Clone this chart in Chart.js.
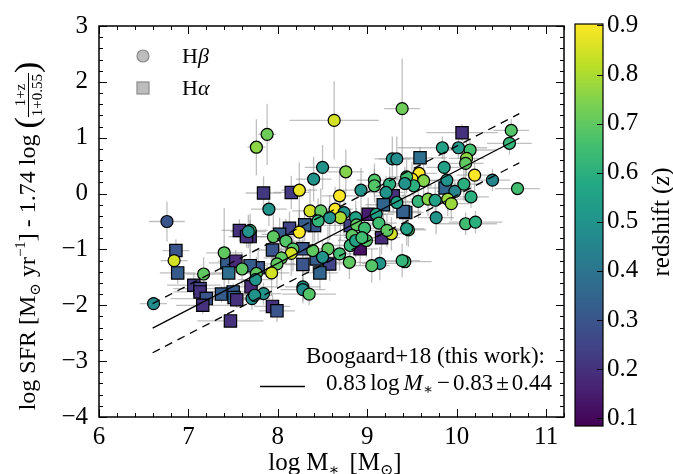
<!DOCTYPE html>
<html>
<head>
<meta charset="utf-8">
<script src="https://cdn.jsdelivr.net/npm/chart.js@4.4.1/dist/chart.umd.min.js"></script>
<style>
  html, body { margin: 0; padding: 0; background: #fff; }
  #wrap { width: 673px; height: 474px; }
</style>
</head>
<body>
<div id="wrap"><canvas id="c" width="673" height="474"></canvas></div>
<script>
// H-beta galaxies: stellar mass, SFR (normalised), redshift, x error, y error
const hbMass = [7.76, 7.88, 8.63, 9.39, 9.84, 10.02, 10.15, 10.11, 10.61, 10.59, 9.86, 9.58, 9.50, 9.63, 9.52, 9.89, 9.98, 10.08, 10.20, 10.10,
  10.40, 10.68, 10.16, 9.57, 9.68, 9.76, 9.90, 9.94, 9.77, 10.10, 10.21, 9.46, 9.42, 8.50, 8.76, 8.40, 8.24, 7.90, 8.69, 8.93,
  9.08, 9.08, 9.25, 9.21, 9.44, 9.42, 9.33, 9.28, 9.33, 8.36, 8.48, 8.64, 8.74, 8.70, 8.58, 8.45, 8.87, 8.88, 9.10, 9.13,
  8.97, 9.27, 9.22, 9.44, 8.99, 8.83, 8.81, 8.87, 8.94, 8.24, 7.95, 8.09, 8.17, 8.39, 8.56, 8.50, 8.69, 8.80, 9.14, 9.05,
  9.39, 8.15, 8.04, 7.99, 7.93, 8.28, 7.69, 7.76, 6.76, 6.84, 7.17, 7.40, 7.60, 7.67, 7.75, 6.61, 7.71, 8.28, 8.35, 7.84, 7.74];
const hbSfr = [0.83, 1.06, 1.31, 1.52, 0.82, 0.82, 0.78, 0.63, 1.13, 0.90, 0.47, 0.36, 0.26, 0.23, 0.14, 0.24, 0.04, 0.17, 0.33, 0.54,
  0.24, 0.09, -0.06, -0.14, -0.10, -0.12, -0.10, -0.18, -0.43, -0.54, -0.51, -0.65, -1.22, 0.47, 0.39, 0.26, 0.06, -0.28, -0.04, 0.06,
  0.24, 0.14, 0.17, 0.02, 0.30, 0.18, -0.16, 0.62, 0.62, -0.31, -0.31, -0.28, -0.34, -0.43, -0.43, -0.49, -0.43, -0.56, -0.37, -0.53,
  -0.62, -0.72, -0.66, -0.63, -0.84, -0.75, -0.93, -0.84, -0.79, -0.69, -0.77, -0.85, -0.99, -1.02, -0.99, -1.14, -1.08, -1.23, -1.25, -1.29,
  -1.20, -1.07, -1.15, -1.26, -1.42, -1.67, -0.66, -1.43, -0.50, -1.20, -1.44, -1.06, -1.35, -0.68, -1.54, -1.97, -1.88, -1.72, -1.80, -1.79, -1.82];
const hbZ = [0.76, 0.72, 0.85, 0.72, 0.55, 0.52, 0.66, 0.76, 0.68, 0.62, 0.55, 0.90, 0.90, 0.75, 0.60, 0.50, 0.45, 0.60, 0.90, 0.70,
  0.45, 0.65, 0.60, 0.62, 0.75, 0.55, 0.78, 0.78, 0.50, 0.65, 0.60, 0.65, 0.65, 0.50, 0.75, 0.50, 0.88, 0.50, 0.90, 0.50,
  0.68, 0.68, 0.60, 0.50, 0.65, 0.50, 0.55, 0.50, 0.48, 0.85, 0.70, 0.90, 0.50, 0.80, 0.50, 0.62, 0.55, 0.70, 0.55, 0.65,
  0.65, 0.85, 0.70, 0.55, 0.68, 0.70, 0.62, 0.55, 0.65, 0.90, 0.70, 0.68, 0.68, 0.70, 0.70, 0.50, 0.65, 0.70, 0.50, 0.68,
  0.62, 0.85, 0.70, 0.70, 0.85, 0.50, 0.65, 0.70, 0.30, 0.85, 0.70, 0.70, 0.70, 0.50, 0.50, 0.48, 0.48, 0.48, 0.68, 0.50, 0.50];
const hbXerr = [0.10, 0.10, 0.50, 0.20, 0.50, 0.20, 0.30, 0.20, 0.20, 0.25, 0.20, 0.20, 0.20, 0.20, 0.20, 0.20, 0.20, 0.20, 0.20, 0.20,
  0.20, 0.25, 0.20, 0.20, 0.20, 0.20, 0.20, 0.20, 0.20, 0.35, 0.30, 0.20, 0.30, 0.20, 0.20, 0.20, 0.20, 0.20, 0.20, 0.20,
  0.20, 0.20, 0.20, 0.20, 0.20, 0.20, 0.20, 0.20, 0.20, 0.20, 0.20, 0.20, 0.20, 0.20, 0.20, 0.20, 0.20, 0.20, 0.20, 0.20,
  0.20, 0.20, 0.20, 0.20, 0.20, 0.20, 0.20, 0.20, 0.20, 0.20, 0.20, 0.20, 0.20, 0.20, 0.20, 0.20, 0.20, 0.20, 0.20, 0.20,
  0.20, 0.20, 0.20, 0.20, 0.20, 0.20, 0.20, 0.20, 0.20, 0.15, 0.20, 0.20, 0.20, 0.20, 0.20, 0.15, 0.20, 0.25, 0.30, 0.20, 0.20];
const hbYerr = [0.50, 0.55, 0.70, 0.90, 0.20, 0.20, 0.20, 0.30, 0.20, 0.20, 0.30, 0.30, 0.30, 0.30, 0.30, 0.30, 0.20, 0.30, 0.30, 0.30,
  0.20, 0.10, 0.20, 0.30, 0.30, 0.30, 0.30, 0.30, 0.30, 0.20, 0.20, 0.30, 0.10, 0.40, 0.40, 0.40, 0.50, 0.30, 0.50, 0.40,
  0.30, 0.30, 0.30, 0.30, 0.30, 0.30, 0.30, 0.40, 0.40, 0.40, 0.40, 0.40, 0.40, 0.40, 0.40, 0.40, 0.30, 0.30, 0.30, 0.30,
  0.30, 0.30, 0.30, 0.30, 0.30, 0.30, 0.30, 0.30, 0.30, 0.40, 0.40, 0.40, 0.40, 0.40, 0.40, 0.30, 0.30, 0.30, 0.30, 0.30,
  0.30, 0.40, 0.40, 0.40, 0.40, 0.30, 0.30, 0.30, 0.36, 0.20, 0.30, 0.80, 0.30, 0.30, 0.30, 0.10, 0.20, 0.20, 0.20, 0.20, 0.20];

// H-alpha galaxies
const haMass = [10.06, 9.59, 9.87, 9.43, 7.84, 8.15, 9.29, 9.18, 9.40, 8.41, 9.01, 8.81, 9.16, 8.92, 8.30, 8.13, 8.02, 7.94, 8.28, 8.43,
  8.28, 8.58, 8.47, 7.78, 7.69, 7.69, 6.86, 6.88, 7.06, 7.13, 7.43, 7.53, 7.45, 7.57, 7.65, 7.70, 7.13, 7.20, 7.16, 7.37,
  7.50, 7.51, 7.54, 7.47, 7.94, 7.99];
const haSfr = [1.09, 0.64, 0.10, -0.34, 0.01, 0.02, -0.04, -0.20, -0.32, -0.57, -0.37, -0.57, -0.79, -0.99, -0.56, -0.62, -0.73, -1.01, -0.99, -1.17,
  -1.27, -1.26, -1.42, -1.33, -1.29, -0.77, -1.02, -1.42, -1.64, -1.70, -1.24, -1.21, -1.42, -0.66, -0.77, -1.67, -1.76, -1.88, -2.00, -1.80,
  -1.76, -1.86, -1.90, -2.28, -2.02, -2.10];
const haZ = [0.20, 0.38, 0.35, 0.35, 0.22, 0.22, 0.20, 0.35, 0.33, 0.30, 0.15, 0.25, 0.18, 0.12, 0.32, 0.25, 0.32, 0.30, 0.30, 0.32,
  0.30, 0.25, 0.35, 0.30, 0.32, 0.20, 0.30, 0.32, 0.22, 0.25, 0.32, 0.18, 0.38, 0.20, 0.20, 0.18, 0.20, 0.30, 0.20, 0.32,
  0.32, 0.35, 0.20, 0.20, 0.20, 0.30];
const haXerr = [0.40, 0.30, 0.20, 0.20, 0.20, 0.20, 0.20, 0.20, 0.20, 0.20, 0.20, 0.20, 0.20, 0.20, 0.20, 0.20, 0.20, 0.20, 0.20, 0.20,
  0.20, 0.20, 0.20, 0.20, 0.20, 0.20, 0.15, 0.20, 0.30, 0.30, 0.20, 0.20, 0.20, 0.20, 0.20, 0.30, 0.30, 0.40, 0.30, 0.30,
  0.30, 0.30, 0.30, 0.37, 0.20, 0.20];
const haYerr = [0.15, 0.20, 0.30, 0.30, 0.30, 0.30, 0.30, 0.30, 0.30, 0.30, 0.30, 0.30, 0.30, 0.30, 0.30, 0.30, 0.30, 0.30, 0.30, 0.30,
  0.30, 0.30, 0.30, 0.30, 0.30, 0.30, 0.20, 0.20, 0.20, 0.20, 0.20, 0.20, 0.20, 0.20, 0.20, 0.20, 0.20, 0.15, 0.15, 0.15,
  0.15, 0.15, 0.15, 0.10, 0.20, 0.20];

// best fit 0.83 log M - 0.83 +- 0.44, end points
const fitMass = [6.6, 10.7];
const fitSfr = [-2.41, 0.99];
const fitUpper = [-1.97, 1.43];
const fitLower = [-2.85, 0.55];

const xTicks = [6, 7, 8, 9, 10, 11];
const yTicks = [-4, -3, -2, -1, 0, 1, 2, 3];
const cbTicks = [0.1, 0.2, 0.3, 0.4, 0.5, 0.6, 0.7, 0.8, 0.9];
const zMin = 0.084, zMax = 0.903;

const viridisStops = ['#440154','#482475','#414487','#355f8d','#2a788e','#21918c','#22a884','#44bf70','#7ad151','#bddf26','#fde725'];
function hexRgb(h){ return [parseInt(h.slice(1,3),16), parseInt(h.slice(3,5),16), parseInt(h.slice(5,7),16)]; }
function viridis(t){
  t = Math.max(0, Math.min(1, t));
  const f = t*(viridisStops.length-1), i = Math.min(Math.floor(f), viridisStops.length-2), u = f-i;
  const a = hexRgb(viridisStops[i]), b = hexRgb(viridisStops[i+1]);
  return 'rgb(' + a.map((v,k)=>Math.round(v+(b[k]-v)*u)).join(',') + ')';
}
const zColor = z => viridis((z-zMin)/(zMax-zMin));

const serif = '"Liberation Serif", "DejaVu Serif", serif';
const minus = v => v < 0 ? '\u2212' + Math.abs(v) : String(v);

function pts(m, s){ return m.map((x,i)=>({x:x, y:s[i]})); }

// draws a row of text pieces, starting at x, baseline y
function drawPieces(ctx, pieces, x, y){
  let cx = x;
  pieces.forEach(p=>{
    if (p.gap){ cx += p.gap; return; }
    if (p.frac){
      ctx.font = p.font;
      const w1 = ctx.measureText(p.num).width, w2 = ctx.measureText(p.den).width, w = Math.max(w1,w2)+2;
      ctx.fillText(p.num, cx + (w-w1)/2, y - 10);
      ctx.fillText(p.den, cx + (w-w2)/2, y + 7);
      ctx.fillRect(cx, y - 7, w, 1);
      cx += w;
      return;
    }
    ctx.font = p.font;
    ctx.fillText(p.t, cx, y + (p.dy||0));
    cx += ctx.measureText(p.t).width;
  });
  return cx - x;
}
function piecesWidth(ctx, pieces){
  let w = 0;
  pieces.forEach(p=>{
    if (p.gap){ w += p.gap; return; }
    ctx.font = p.font;
    if (p.frac) w += Math.max(ctx.measureText(p.num).width, ctx.measureText(p.den).width)+2;
    else w += ctx.measureText(p.t).width;
  });
  return w;
}

const decor = {
  id: 'decor',
  beforeDatasetsDraw(chart){
    const ctx = chart.ctx, xs = chart.scales.x, ys = chart.scales.y;
    ctx.save();
    ctx.strokeStyle = 'rgba(150,150,150,0.6)';
    ctx.lineWidth = 1.3;
    const bars = (m, s, ex, ey) => m.forEach((x,i)=>{
      const px = xs.getPixelForValue(x), py = ys.getPixelForValue(s[i]);
      ctx.beginPath();
      ctx.moveTo(xs.getPixelForValue(x-ex[i]), py); ctx.lineTo(xs.getPixelForValue(x+ex[i]), py);
      ctx.moveTo(px, ys.getPixelForValue(s[i]-ey[i])); ctx.lineTo(px, ys.getPixelForValue(s[i]+ey[i]));
      ctx.stroke();
    });
    bars(hbMass, hbSfr, hbXerr, hbYerr);
    bars(haMass, haSfr, haXerr, haYerr);
    ctx.restore();
  },
  afterDraw(chart){
    const ctx = chart.ctx, xs = chart.scales.x, ys = chart.scales.y;
    const {left, right, top, bottom} = chart.chartArea;
    ctx.save();
    // inward ticks on all four sides
    ctx.strokeStyle = '#000'; ctx.lineWidth = 1;
    ctx.beginPath();
    for (let k = 0; k <= 26; k++){
      const v = 6 + k*0.2, px = Math.round(xs.getPixelForValue(v)) + 0.5, L = (k % 5 === 0) ? 8 : 4;
      ctx.moveTo(px, bottom); ctx.lineTo(px, bottom - L);
      ctx.moveTo(px, top); ctx.lineTo(px, top + L);
    }
    for (let k = 0; k <= 35; k++){
      const v = -4 + k*0.2, py = Math.round(ys.getPixelForValue(v)) + 0.5, L = (k % 5 === 0) ? 8 : 4;
      ctx.moveTo(left, py); ctx.lineTo(left + L, py);
      ctx.moveTo(right, py); ctx.lineTo(right - L, py);
    }
    ctx.stroke();
    ctx.lineWidth = 1.5;
    ctx.strokeRect(left, top, right-left, bottom-top);

    // legend
    ctx.fillStyle = '#bdbdbd'; ctx.strokeStyle = '#8a8a8a'; ctx.lineWidth = 1.2;
    ctx.beginPath(); ctx.arc(143, 56, 6, 0, Math.PI*2); ctx.fill(); ctx.stroke();
    ctx.fillRect(137, 82, 12, 12); ctx.strokeRect(137, 82, 12, 12);
    ctx.fillStyle = '#000';
    ctx.textBaseline = 'alphabetic'; ctx.textAlign = 'left';
    drawPieces(ctx, [{t:'H', font:'22px '+serif}, {t:'\u03b2', font:'italic 22px '+serif}], 182, 63);
    drawPieces(ctx, [{t:'H', font:'22px '+serif}, {t:'\u03b1', font:'italic 22px '+serif}], 182, 95);

    // fit annotation
    ctx.font = '23px ' + serif;
    ctx.textAlign = 'right';
    ctx.fillText('Boogaard+18 (this work):', 545, 363);
    ctx.textAlign = 'left';
    const eq = [
      {t:'0.83', font:'23px '+serif}, {gap:4},
      {t:'log', font:'23px '+serif}, {gap:4},
      {t:'M', font:'italic 23px '+serif},
      {t:'\u2217', font:'15px '+serif, dy:4}, {gap:4},
      {t:'\u2212', font:'23px '+serif}, {gap:3},
      {t:'0.83', font:'23px '+serif}, {gap:3},
      {t:'\u00b1', font:'23px '+serif}, {gap:3},
      {t:'0.44', font:'23px '+serif}
    ];
    const ew = piecesWidth(ctx, eq);
    drawPieces(ctx, eq, 552 - ew, 390);
    ctx.strokeStyle = '#000'; ctx.lineWidth = 1.3;
    ctx.beginPath(); ctx.moveTo(260, 386.5); ctx.lineTo(305, 386.5); ctx.stroke();

    // x title
    const xt = [
      {t:'log', font:'25px '+serif}, {gap:6},
      {t:'M', font:'25px '+serif},
      {t:'\u2217', font:'16px '+serif, dy:5}, {gap:10},
      {t:'[M', font:'25px '+serif},
      {t:'\u2299', font:'16px '+serif, dy:5},
      {t:']', font:'25px '+serif}
    ];
    const xw = piecesWidth(ctx, xt);
    drawPieces(ctx, xt, 335 - xw/2, 470);

    // y title, rotated
    const yt = [
      {t:'log SFR [M', font:'24px '+serif},
      {t:'\u2299', font:'15px '+serif, dy:5},
      {t:' yr', font:'24px '+serif},
      {t:'\u22121', font:'15px '+serif, dy:-10},
      {t:'] - 1.74 log ', font:'24px '+serif},
      {t:'(', font:'34px '+serif, dy:3},
      {frac:true, num:'1+z', den:'1+0.55', font:'15px '+serif},
      {t:')', font:'34px '+serif, dy:3}
    ];
    ctx.save();
    ctx.translate(35, 236);
    ctx.rotate(-Math.PI/2);
    const yw = piecesWidth(ctx, yt);
    drawPieces(ctx, yt, -yw/2, 0);
    ctx.restore();

    // colorbar
    const cbL = 575, cbR = 603, cbT = 24, cbB = 426;
    const cbY = z => cbB - (z - zMin)/(zMax - zMin)*(cbB - cbT);
    for (let py = cbT; py < cbB; py++){
      ctx.fillStyle = zColor(zMin + (cbB - py - 0.5)/(cbB - cbT)*(zMax - zMin));
      ctx.fillRect(cbL, py, cbR - cbL, 1);
    }
    ctx.strokeStyle = '#000'; ctx.lineWidth = 1.2;
    ctx.strokeRect(cbL, cbT, cbR - cbL, cbB - cbT);
    ctx.lineWidth = 1;
    ctx.beginPath();
    cbTicks.forEach(z=>{
      const py = Math.round(cbY(z)) + 0.5;
      ctx.moveTo(cbR, py); ctx.lineTo(cbR - 6, py);
    });
    ctx.stroke();
    ctx.fillStyle = '#000';
    ctx.font = '25px ' + serif;
    ctx.textBaseline = 'middle'; ctx.textAlign = 'left';
    cbTicks.forEach(z=> ctx.fillText(z.toFixed(1), 607, cbY(z)));
    ctx.save();
    ctx.translate(662, 222);
    ctx.rotate(-Math.PI/2);
    ctx.textAlign = 'left'; ctx.textBaseline = 'middle';
    const rt = [{t:'redshift (', font:'25px '+serif}, {t:'z', font:'italic 25px '+serif}, {t:')', font:'25px '+serif}];
    const rw = piecesWidth(ctx, rt);
    drawPieces(ctx, rt, -rw/2, 0);
    ctx.restore();
    ctx.restore();
  }
};

const ctx = document.getElementById('c').getContext('2d');
new Chart(ctx, {
  type: 'scatter',
  data: {
    datasets: [
      {type:'line', label:'fit', data: pts(fitMass, fitSfr), borderColor:'#000', borderWidth:1.3, pointRadius:0, fill:false, order:0},
      {type:'line', label:'upper', data: pts(fitMass, fitUpper), borderColor:'#000', borderWidth:1.3, borderDash:[8,6], pointRadius:0, fill:false, order:0},
      {type:'line', label:'lower', data: pts(fitMass, fitLower), borderColor:'#000', borderWidth:1.3, borderDash:[8,6], pointRadius:0, fill:false, order:0},
      {label:'H\u03b2', data: pts(hbMass, hbSfr), pointStyle:'circle', pointRadius:6, pointHoverRadius:6,
        backgroundColor: hbZ.map(zColor), borderColor:'#000', borderWidth:1.2, order:1},
      {label:'H\u03b1', data: pts(haMass, haSfr), pointStyle:'rect', pointRadius:8.7, pointHoverRadius:8.7,
        backgroundColor: haZ.map(zColor), borderColor:'#000', borderWidth:1.2, order:2}
    ]
  },
  options: {
    responsive: false,
    animation: false,
    devicePixelRatio: 1,
    layout: {padding: {top: 24, right: 109, left: 0, bottom: 0}},
    plugins: {legend: {display: false}, tooltip: {enabled: false}},
    scales: {
      x: {
        type: 'linear', min: 6, max: 11.2,
        grid: {display: false, drawTicks: false}, border: {display: false},
        afterBuildTicks: s => { s.ticks = xTicks.map(v=>({value:v})); },
        ticks: {color:'#000', font:{family: serif, size: 25}, padding: 5, maxRotation: 0, autoSkip: false, callback: v => minus(v)},
        afterFit: s => { s.height = 57; }
      },
      y: {
        type: 'linear', min: -4, max: 3,
        grid: {display: false, drawTicks: false}, border: {display: false},
        afterBuildTicks: s => { s.ticks = yTicks.map(v=>({value:v})); },
        ticks: {color:'#000', font:{family: serif, size: 25}, padding: 11, autoSkip: false, callback: v => minus(v)},
        afterFit: s => { s.width = 99; }
      }
    }
  },
  plugins: [decor]
});
</script>
</body>
</html>
